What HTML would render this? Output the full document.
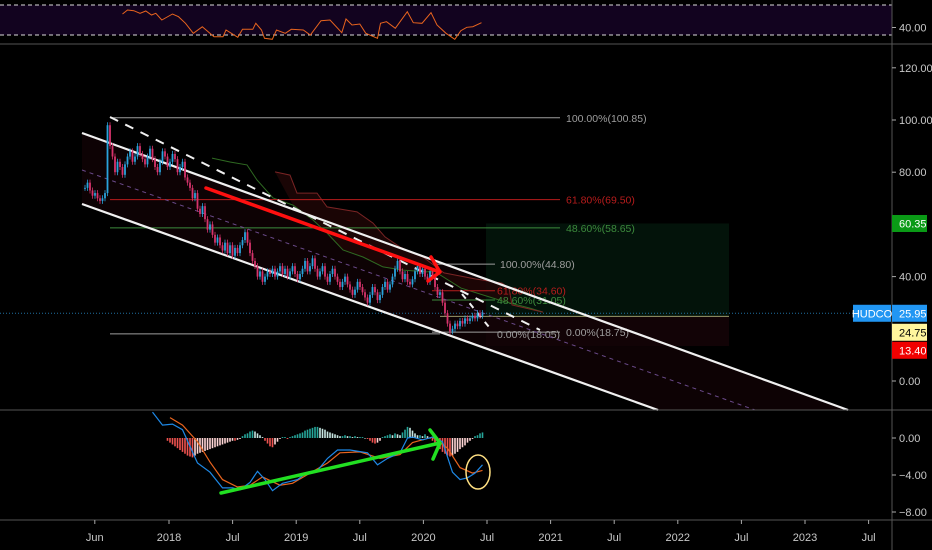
<!DOCTYPE html>
<html><head><meta charset="utf-8"><style>
html,body{margin:0;padding:0;background:#000;width:932px;height:550px;overflow:hidden}
svg{display:block;font-family:"Liberation Sans Narrow","Liberation Sans",sans-serif}
.ax{fill:#c8c8c8;font-size:11px}
</style></head><body>
<svg id="chart" width="932" height="550" viewBox="0 0 932 550" xmlns="http://www.w3.org/2000/svg">
<rect width="932" height="550" fill="#000"/>
<g id="rsiPane">
 <rect x="0" y="5" width="892" height="30" fill="#12031f"/>
 <line x1="0" y1="5" x2="892" y2="5" stroke="#ddd" stroke-dasharray="4,3"/>
 <line x1="0" y1="35" x2="892" y2="35" stroke="#ddd" stroke-dasharray="4,3"/>
</g>
<g id="mainPane"></g>
<g id="macdPane"></g>
<g id="axes">
 <line x1="0" y1="44" x2="932" y2="44" stroke="#555"/>
 <line x1="0" y1="410" x2="932" y2="410" stroke="#555"/>
 <line x1="0" y1="520" x2="932" y2="520" stroke="#555"/>
 <line x1="892" y1="0" x2="892" y2="550" stroke="#555"/>
</g>
</svg>
<script>
const closes=[74,76,73,71,72,70,69,70,72,98,90,86,80,84,82,79,83,86,88,84,86,90,87,85,83,86,89,85,82,80,84,88,86,82,84,87,85,80,82,84,78,76,74,70,72,66,64,67,62,58,60,56,53,55,52,50,53,49,52,48,51,49,52,54,57,53,49,46,44,40,42,38,40,42,41,43,40,42,44,41,43,40,42,44,41,39,41,43,46,42,44,47,43,40,42,44,40,38,41,43,40,38,36,38,40,37,35,33,35,38,36,34,32,30,33,36,34,31,33,36,38,35,37,40,43,46,42,39,41,38,37,39,42,44,41,43,40,38,42,40,36,33,34,30,26,22,19,20,22,21,23,22,24,23,24,25,24,26,25,26];
const rsiWeek=[15,17,19.5,22,24.3,26.6,28.3,30.7,35,37.4,40.2,43.3,46.9,51.6,55.2,56.4,61.1,63,67.1,68.3,70.6,71.8,74.9,76.6,80.1,82.5,87.3,90.1,94.4,98,102.7,104.4,106.8,109.9,112.3,117,118.2,120.6,124.1,128.9,131.3,134.8,138.4,140.8,144.4,147.9,150.3,152.7,155.1,158.6];
const rsiVal=[58,63.3,62.4,58.9,62,56.7,58.9,50,58,54.4,45.6,32.2,41,27.8,27.8,36.7,27,37.6,37.6,45.6,36.7,25.6,24.2,36.7,32.2,37.6,36.7,30,49.1,50,33.1,51.3,43.3,44.7,32.2,25.6,45.6,47.8,38.9,61.1,46.4,45.6,59.8,43.3,32.2,24.2,35.8,40.2,41.1,46.4];
const macdWeek=[27,31,35,39,45,50,55,59,62,66,69,72,75,79,85,89,93,97,101,106,113,117,121,126,129,131,135,139,143,147,150,153,156,159];
const macdVal=[2.8,1.4,1.5,0.9,-2.7,-3.7,-5.4,-5.4,-5.6,-4.8,-3.6,-4.5,-5.7,-4.9,-4.5,-3.7,-3.5,-2.2,-1.3,-1.3,-1.6,-2.9,-2.2,-1.6,0,0.1,-0.2,0.1,-0.4,-3.7,-4.5,-4.3,-3.8,-2.9];
const sigWeek=[34,39,45,50,55,61,66,71,78,83,90,97,102,110,118,126,131,139,145,150,155,159];
const sigVal=[2.2,1.4,-0.4,-2.6,-4.5,-5.3,-5.1,-4.2,-5.1,-4.9,-3.8,-2.7,-1.6,-1.5,-2.2,-1.8,-0.5,0.1,-1.1,-3.2,-3.8,-3.5];
const histStart=33;
const histVal=[-0.3,-0.5,-0.7,-0.9,-1.1,-1.3,-1.5,-1.7,-1.9,-2.0,-2.1,-1.9,-1.7,
-1.6,-1.5,-1.4,-1.3,-1.2,-1.1,-1.0,-0.9,-0.8,-0.7,-0.6,-0.5,-0.4,-0.3,-0.3,-0.2,-0.1,
0.2,0.4,0.5,0.7,0.8,0.7,0.5,0.3,0.1,
-0.3,-0.6,-0.9,-1.0,-0.7,-0.4,
-0.1,0.1,0.1,-0.1,0.1,0.2,
0.3,0.4,0.5,0.6,0.8,0.9,1.0,1.1,1.2,1.2,1.1,1.0,0.9,0.7,0.6,0.5,0.4,0.3,0.2,
0.2,0.3,0.2,0.2,0.1,0.2,0.1,0.1,0.1,0.0,-0.1,
-0.3,-0.5,-0.6,-0.5,-0.3,
0.1,0.2,0.3,0.4,0.3,0.5,0.4,0.3,0.6,
0.9,1.2,1.1,0.8,0.5,0.3,
0.3,0.2,0.4,0.2,0.0,
-0.3,-0.6,-0.9,-1.2,-1.5,-1.7,-1.9,-2.0,-1.9,-1.7,-1.5,-1.2,-1.0,-0.8,-0.5,-0.3,-0.1,
0.2,0.3,0.5,0.6];
const spanAWeek=[50.8,58,64.8,68.8,75.2,83.2,91.2,96.8,103.2,111.2,119.2,127.2,136.8,139.6,150.4,166.8,177.6,183.2];
const spanAVal=[85.4,83.9,82.8,77,70.1,67.4,61.7,56.7,50.2,47.5,43.7,42.5,41.8,42.1,35.6,30.7,28,26.4];
const spanBWeek=[76,82,84.8,92.8,96.8,108.8,115.2,120,126,135.2,143.6,156,166.8,169.6,170.8,183.2];
const spanBVal=[80.1,78.9,72,72,66.7,64.8,60.5,55.2,51.3,47.5,41.4,39.1,37.5,35.6,29.1,26.4];
const priceTicks=[120,100,80,40,0];
const priceTickLabels=["120.00","100.00","80.00","40.00","0.00"];
const macdTicks=[0,-4,-8];
const macdTickLabels=["0.00","−4.00","−8.00"];
const timeTickMonths=[-7,0,6,12,18,24,30,36,42,48,54,60,66];
const timeTickLabels=["Jun","2018","Jul","2019","Jul","2020","Jul","2021","Jul","2022","Jul","2023","Jul"];
const fibLevels=[100.85,69.5,58.65,44.8,34.6,31.05,18.05,18.75];
const fibLabels=["100.00%(100.85)","61.80%(69.50)","48.60%(58.65)","100.00%(44.80)","61.80%(34.60)","48.60%(31.05)","0.00%(18.05)","0.00%(18.75)"];
const lastPrice=25.95, entryPrice=24.75, targetPrice=60.35, stopPrice=13.40;

const NS="http://www.w3.org/2000/svg";
const xw=i=>85+i*2.5;
const xm=m=>169+m*10.6;
const yP=v=>381-2.61*v;
const yM=v=>438-9.25*v;
const yR=v=>5+(70-v)*0.75;
function mk(tag,attrs,parent){const e=document.createElementNS(NS,tag);for(const k in attrs)e.setAttribute(k,attrs[k]);parent.appendChild(e);return e;}
const main=document.getElementById('mainPane');
const macd=document.getElementById('macdPane');
const rsiG=document.getElementById('rsiPane');
const axes=document.getElementById('axes');

let e=mk('polygon',{points:"82,133 848,410 658,410 82,204",fill:"#0d0204"},main);


e=mk('rect',{x:486,y:yP(targetPrice),width:243,height:yP(entryPrice)-yP(targetPrice),fill:"#03130a"},main);


e=mk('rect',{x:486,y:yP(entryPrice),width:243,height:yP(stopPrice)-yP(entryPrice),fill:"#120306"},main);


function pts(ws,vs){return ws.map((w,k)=>xw(w).toFixed(1)+','+yP(vs[k]).toFixed(1));}
let cloudPts=pts(spanBWeek,spanBVal).concat(pts(spanAWeek.filter(w=>w>=76),spanAVal.filter((v,k)=>spanAWeek[k]>=76)).reverse());
e=mk('polygon',{points:cloudPts.join(' '),fill:"#200606",opacity:"0.8"},main);


e=mk('polyline',{points:pts(spanAWeek,spanAVal).join(' '),fill:"none",stroke:"#2f6a22","stroke-width":1},main);


e=mk('polyline',{points:pts(spanBWeek,spanBVal).join(' '),fill:"none",stroke:"#7a2424","stroke-width":1},main);


e=mk('line',{x1:0,y1:yP(lastPrice),x2:892,y2:yP(lastPrice),stroke:"#1f6f9f","stroke-dasharray":"1,2"},main);


e=mk('line',{x1:440,y1:yP(entryPrice),x2:729,y2:yP(entryPrice),stroke:"#9a9a6a"},main);


const fibColors=["#9e9e9e","#b71c1c","#3d8b3d","#9e9e9e","#b71c1c","#3d8b3d","#9e9e9e","#9e9e9e"];
const fibX1=[110,110,110,435,432,432,110,432], fibX2=[560,560,560,495,495,495,440,560], fibLX=[566,566,566,500,497,497,497,566];
fibLevels.forEach((v,k)=>{
 let l=mk('line',{x1:fibX1[k],y1:yP(v),x2:fibX2[k],y2:yP(v),stroke:fibColors[k],"stroke-width":1},main);
 
 
 let t=mk('text',{x:fibLX[k],y:yP(v)+4,fill:fibColors[k],"font-size":"10.5px"},main);
 t.textContent=fibLabels[k];
 
 
});
[["82,133","848,410","channel-upper"],["82,204","658,410","channel-lower"]].forEach(c=>{
 let a=c[0].split(','),b=c[1].split(',');
 let l=mk('line',{x1:a[0],y1:a[1],x2:b[0],y2:b[1],stroke:"#f0f0f0","stroke-width":2.2},main);
 
 
});
e=mk('line',{x1:82,y1:170,x2:755,y2:410,stroke:"#6a4a8a","stroke-dasharray":"4,4"},main);


e=mk('line',{x1:110,y1:117,x2:540,y2:330,stroke:"#f0f0f0","stroke-width":2,"stroke-dasharray":"9,8"},main);


e=mk('line',{x1:462,y1:294,x2:489,y2:327,stroke:"#f0f0f0","stroke-width":2,"stroke-dasharray":"6,6"},main);


closes.forEach((c,i)=>{
 const o=i===0?c:closes[i-1];
 const up=c>=o, col=up?"#2aa3dc":"#d6336c";
 const x=xw(i), yt=yP(Math.max(o,c)), yb=yP(Math.min(o,c));
 let w=mk('line',{x1:x,y1:yt-3,x2:x,y2:yb+3,stroke:col,"stroke-width":0.8},main);
 
 
 let r=mk('rect',{x:x-0.9,y:yt,width:1.8,height:Math.max(1,yb-yt),fill:col},main);
 
 
});
e=mk('path',{d:"M206,188 L437,271 M431,257 L440,272 L428,281",fill:"none",stroke:"#ff1010","stroke-width":3.5,"stroke-linecap":"round","stroke-linejoin":"round"},main);



e=mk('polyline',{points:rsiWeek.map((w,k)=>xw(w).toFixed(1)+','+yR(rsiVal[k]).toFixed(1)).join(' '),fill:"none",stroke:"#e8641e","stroke-width":1},rsiG);



histVal.forEach((v,k)=>{
 const prev=k>0?histVal[k-1]:0;
 let col;
 if(v>=0) col=v>=prev?"#26a69a":"#c8e6e2"; else col=v<=prev?"#ef5350":"#ffd5d5";
 const x=xw(histStart+k), y0=yM(0), y1=yM(v);
 let r=mk('rect',{x:x-0.8,y:Math.min(y0,y1),width:1.6,height:Math.max(0.6,Math.abs(y1-y0)),fill:col},macd);
 
 
});
e=mk('polyline',{points:sigWeek.map((w,k)=>xw(w).toFixed(1)+','+yM(sigVal[k]).toFixed(1)).join(' '),fill:"none",stroke:"#e8641e","stroke-width":1.2},macd);


e=mk('polyline',{points:macdWeek.map((w,k)=>xw(w).toFixed(1)+','+yM(macdVal[k]).toFixed(1)).join(' '),fill:"none",stroke:"#1e88e5","stroke-width":1.2},macd);


e=mk('path',{d:"M221,493 L440,443 M430,430 L440,443 L433,459",fill:"none",stroke:"#22e022","stroke-width":3.5,"stroke-linecap":"round","stroke-linejoin":"round"},macd);


e=mk('ellipse',{cx:478,cy:472,rx:12,ry:17,fill:"none",stroke:"#ffe082","stroke-width":1.5},macd);



function tick(y,label,name){
 let l=mk('line',{x1:892,y1:y,x2:896,y2:y,stroke:"#aaa"},axes);
 
 
 let t=mk('text',{x:899,y:y+4,class:"ax"},axes);
 t.textContent=label;
 
 
}
tick(yR(40),"40.00","rsi-axis");
priceTicks.forEach((v,k)=>tick(yP(v),priceTickLabels[k],'price-axis'));
macdTicks.forEach((v,k)=>tick(yM(v),macdTickLabels[k],'macd-axis'));
timeTickMonths.forEach((m,k)=>{
 const x=xm(m);
 let l=mk('line',{x1:x,y1:520,x2:x,y2:524,stroke:"#aaa"},axes);
 
 
 let t=mk('text',{x:x,y:541,class:"ax","text-anchor":"middle"},axes);
 t.textContent=timeTickLabels[k];
 
 
});
// price badges (stacked below last price to avoid overlap, like TradingView)
function badge(v,y,bg,fg,name){
 let r=mk('rect',{x:892,y:y-8.5,width:35,height:17,fill:bg},axes);
 
 
 let t=mk('text',{x:899,y:y+4,fill:fg,"font-size":"11px"},axes);
 t.textContent=v.toFixed(2);
 
 
}
const yLast=yP(lastPrice);
badge(targetPrice,yP(targetPrice),"#0a9a16","#fff",'target-price');
badge(lastPrice,yLast,"#2196f3","#fff",'last-price');
badge(entryPrice,Math.max(yP(entryPrice),yLast+19),"#fff59d","#000",'entry-price');
badge(stopPrice,Math.max(yP(stopPrice),yLast+37),"#f00000","#fff",'stop-price');
e=mk('rect',{x:853,y:yLast-8.5,width:38,height:17,fill:"#2196f3"},axes);


e=mk('text',{x:872,y:yLast+4,fill:"#fff","font-size":"11px","text-anchor":"middle"},axes);
e.textContent="HUDCO";


</script>
</body></html>
